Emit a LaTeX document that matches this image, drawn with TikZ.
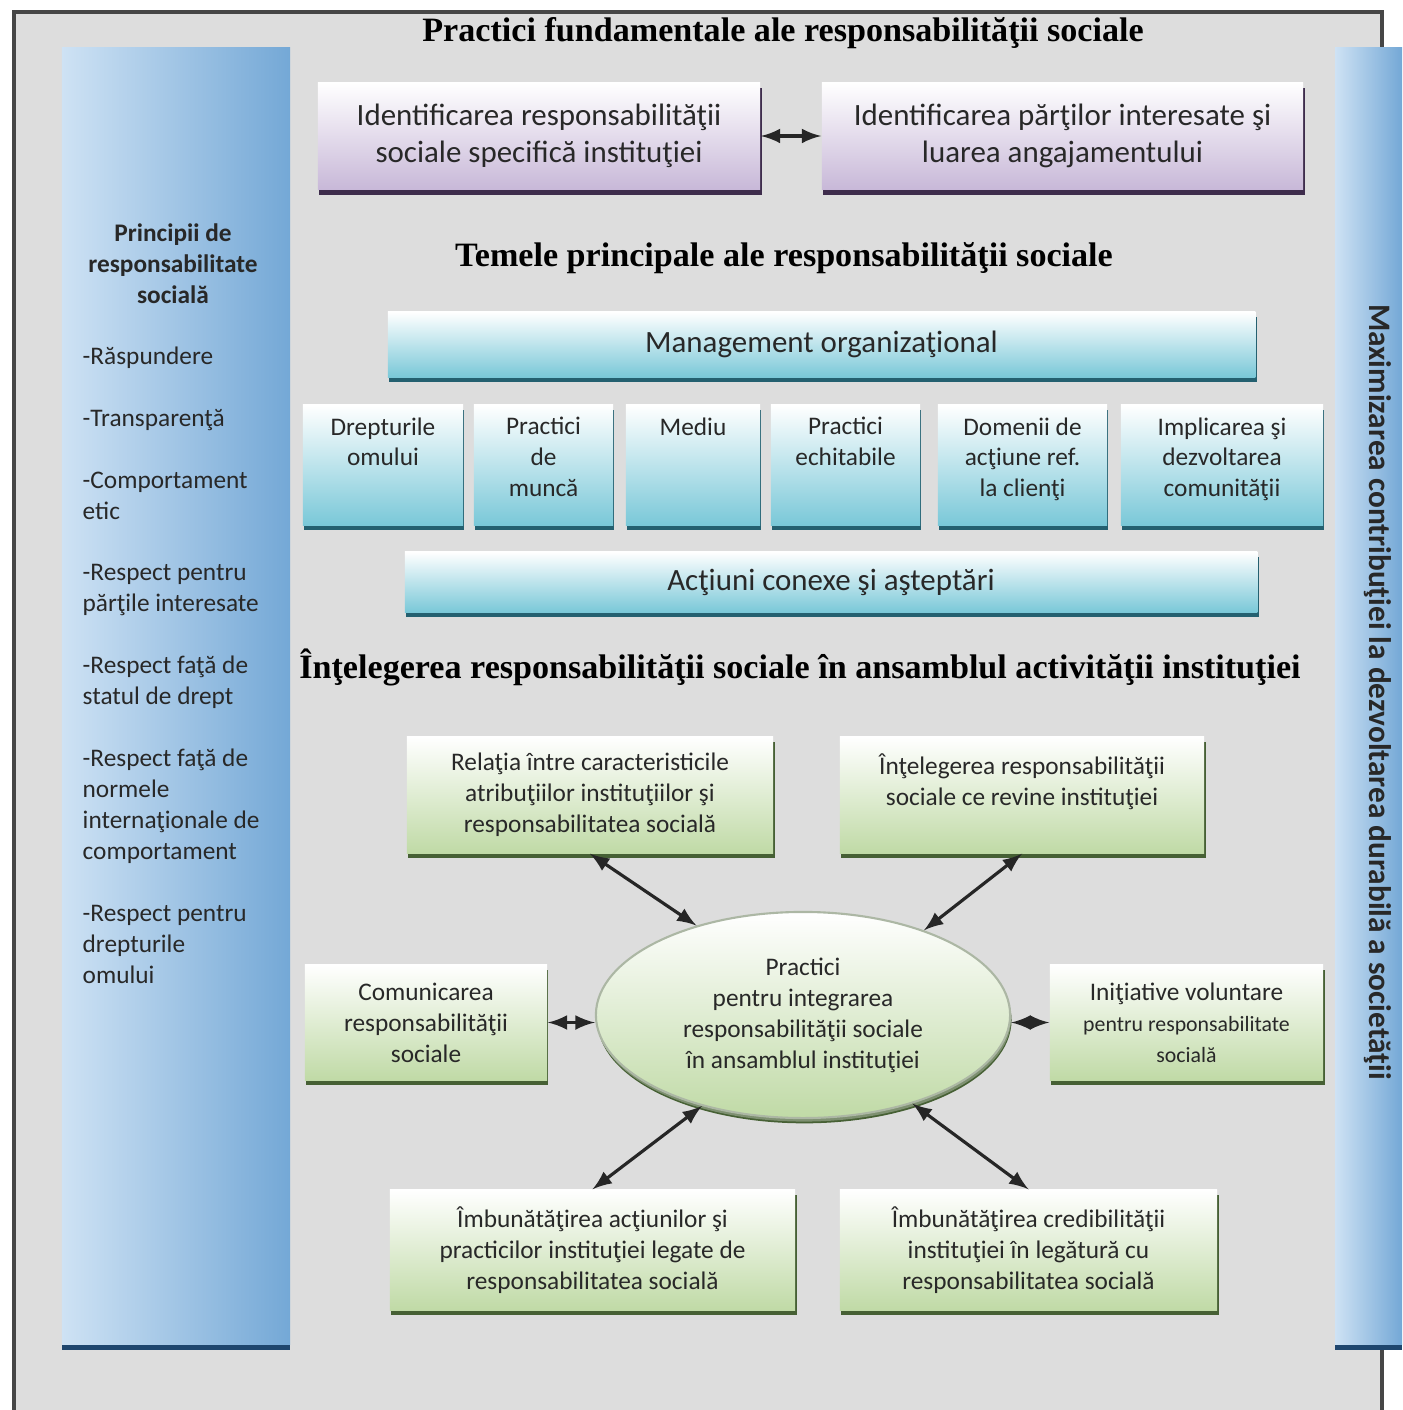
\documentclass[tikz,border=0pt]{standalone}
\usepackage{fontspec}
\setmainfont{Carlito}
\newfontfamily\titlefont{Liberation Serif}
\usetikzlibrary{arrows,shapes,positioning,shadows}
\definecolor{rsgray}{RGB}{221,221,221}
\definecolor{rsframe}{RGB}{70,70,70}
\definecolor{rstext}{RGB}{40,40,40}
\definecolor{rspurple}{RGB}{200,184,216}
\definecolor{rsdarkpurple}{RGB}{62,44,76}
\definecolor{rsteal}{RGB}{122,200,216}
\definecolor{rsdarkteal}{RGB}{36,96,112}
\definecolor{rsgreen}{RGB}{192,218,166}
\definecolor{rsdarkgreen}{RGB}{70,96,52}
\definecolor{rsblue}{RGB}{116,168,214}
\definecolor{rslightblue}{RGB}{206,226,244}
\definecolor{rsdarkblue}{RGB}{30,70,110}
\tikzstyle{heading} = [font=\titlefont\bfseries\fontsize{9.7}{11}\selectfont, text=black]
\tikzstyle{sidepanel} = [rectangle, left color=rslightblue, right color=rsblue, drop shadow={shadow xshift=0pt, shadow yshift=-1.5pt, fill=rsdarkblue, opacity=1}]
\tikzstyle{practice} = [rectangle, minimum height=1.07cm, align=center, top color=white, bottom color=rspurple, text=rstext, font=\fontsize{8.8}{10.5}\selectfont, drop shadow={shadow xshift=0.4pt, shadow yshift=-1.5pt, fill=rsdarkpurple, opacity=1}]
\tikzstyle{theme} = [rectangle, inner sep=0pt, align=center, top color=white, bottom color=rsteal, text=rstext, font=\fontsize{7.2}{8.8}\selectfont, drop shadow={shadow xshift=0.4pt, shadow yshift=-1.5pt, fill=rsdarkteal, opacity=1}]
\tikzstyle{themebar} = [theme, font=\fontsize{8.8}{10.5}\selectfont]
\tikzstyle{integration} = [rectangle, align=center, top color=white, bottom color=rsgreen, text=rstext, font=\fontsize{7.2}{8.8}\selectfont, drop shadow={shadow xshift=0.4pt, shadow yshift=-1.5pt, fill=rsdarkgreen, opacity=1}]
\tikzstyle{link} = [line width=0.9pt, <->, >=latex, color=black!85]
\newcommand{\themetext}[1]{\parbox[c][0.95cm][t]{1.32cm}{\centering #1}}

\begin{document}
\begin{tikzpicture}[x=0.01cm, y=-0.01cm]
\useasboundingbox (0,0) rectangle (1402,1410);
\fill[white] (0,0) rectangle (1402,1410);
\draw[rsframe, line width=1pt, fill=rsgray] (14,1420) -- (14,12) -- (1382,12) -- (1382,1420);

% side panels
\node[sidepanel, minimum width=2.28cm, minimum height=12.97cm] (principles) at (176,696) {};
\node[sidepanel, minimum width=0.67cm, minimum height=12.97cm] (goal) at (1368.5,696) {};
\node[font=\bfseries\fontsize{7.2}{8.8}\selectfont, align=center, text=rstext] (principlestitle) at (173,264) {Principii de\\responsabilitate\\socială};
\node[anchor=north west, inner sep=0pt, align=left, text=rstext, font=\fontsize{7.2}{8.8}\selectfont] (principleslist) at (82,346) {-Răspundere\\[8.8pt]
-Transparenţă\\[8.8pt]
-Comportament\\etic\\[8.8pt]
-Respect pentru\\părţile interesate\\[8.8pt]
-Respect faţă de\\statul de drept\\[8.8pt]
-Respect faţă de\\normele\\internaţionale de\\comportament\\[8.8pt]
-Respect pentru\\drepturile\\omului};
\node[rotate=-90, font=\bfseries\fontsize{8.9}{10}\selectfont, text=rstext] (goaltext) at (1378,692) {Maximizarea contribuţiei la dezvoltarea durabilă a societăţii};

% fundamental practices
\node[heading] (fundtitle) at (783,33) {Practici fundamentale ale responsabilităţii sociale};
\node[practice, minimum width=4.42cm] (specific) at (539,136) {Identificarea responsabilităţii\\sociale specifică instituţiei};
\node[practice, minimum width=4.81cm] (stakeholders) at (1062.5,136) {Identificarea părţilor interesate şi\\luarea angajamentului};
\draw[link] (specific) -- (stakeholders);

% core subjects
\node[heading] (themetitle) at (784,258) {Temele principale ale responsabilităţii sociale};
\node[themebar, minimum width=8.67cm, minimum height=0.65cm] (management) at (821.5,344.5) {Management organizaţional};
\node[theme, minimum width=1.6cm, minimum height=1.2cm] (rights) at (383,465) {\themetext{Drepturile\\omului}};
\node[theme, minimum width=1.39cm, minimum height=1.2cm] (labour) at (543.5,465) {\themetext{Practici\\de\\muncă}};
\node[theme, minimum width=1.34cm, minimum height=1.2cm] (environment) at (693,465) {\themetext{Mediu}};
\node[theme, minimum width=1.49cm, minimum height=1.2cm] (fair) at (845.5,465) {\themetext{Practici\\echitabile}};
\node[theme, minimum width=1.69cm, minimum height=1.2cm] (consumers) at (1022.5,465) {\themetext{Domenii de\\acţiune ref.\\la clienţi}};
\node[theme, minimum width=2.02cm, minimum height=1.2cm] (community) at (1222,465) {\themetext{Implicarea şi\\dezvoltarea\\comunităţii}};
\node[themebar, minimum width=8.52cm, minimum height=0.6cm] (related) at (831,582) {Acţiuni conexe şi aşteptări};

% integration
\node[heading] (integtitle) at (800,667) {Înţelegerea responsabilităţii sociale în ansamblul activităţii instituţiei};
\node[integration, ellipse, draw=rsdarkgreen!45, line width=0.6pt, minimum width=4.14cm, minimum height=2.06cm, drop shadow={shadow xshift=0.3pt, shadow yshift=-1pt, fill=rsdarkgreen!70, opacity=1}] (center) at (803,1015) {Practici\\pentru integrarea\\responsabilităţii sociale\\în ansamblul instituţiei};
\node[integration, minimum width=3.66cm, minimum height=1.16cm] (relation) at (590,795) {Relaţia între caracteristicile\\atribuţiilor instituţiilor şi\\responsabilitatea socială};
\node[integration, minimum width=3.64cm, minimum height=1.16cm] (role) at (1022,795) {Înţelegerea responsabilităţii\\sociale ce revine instituţiei\\~};
\node[integration, minimum width=2.42cm, minimum height=1.15cm] (communication) at (426,1022.5) {Comunicarea\\responsabilităţii\\sociale};
\node[integration, minimum width=2.73cm, minimum height=1.15cm] (voluntary) at (1186.5,1022.5) {Iniţiative voluntare\\{\fontsize{6.2}{8}\selectfont pentru responsabilitate}\\{\fontsize{6.2}{8}\selectfont socială}};
\node[integration, minimum width=4.05cm, minimum height=1.2cm] (actions) at (592.5,1250) {Îmbunătăţirea acţiunilor şi\\practicilor instituţiei legate de\\responsabilitatea socială};
\node[integration, minimum width=3.77cm, minimum height=1.2cm] (credibility) at (1028.5,1250) {Îmbunătăţirea credibilităţii\\instituţiei în legătură cu\\responsabilitatea socială};
\draw[link] (relation.south) -- (center.140);
\draw[link] (role.south) -- (center.35);
\draw[link] (communication.east) -- (communication.east -| center.west);
\draw[link] (center.east |- voluntary.west) -- (voluntary.west);
\draw[link] (actions.north) -- (center.222);
\draw[link] (credibility.north) -- (center.321);
\end{tikzpicture}
\end{document}
